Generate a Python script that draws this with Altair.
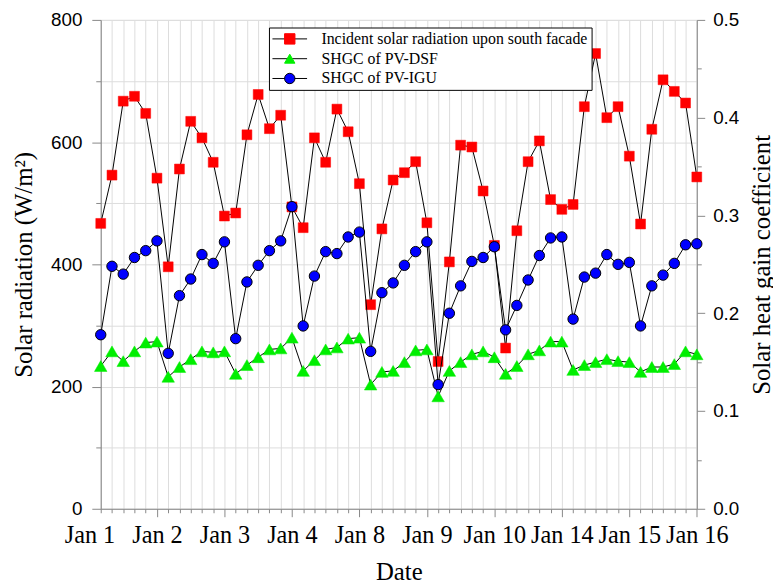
import altair as alt
import pandas as pd

# ---------------- data ----------------
idx = list(range(54))
radiation = [467, 546, 667, 675, 647, 541, 396, 556, 634, 607, 567, 479, 484, 612, 678, 622, 644, 494, 460,
             607, 567, 654, 617, 532, 334, 458, 538, 550, 568, 468, 241, 404, 595, 592, 520, 431, 263,
             455, 568, 602, 506, 490, 498, 658, 745, 640, 658, 577, 466, 621, 702, 683, 664, 543]
shgc_dsf = [0.146, 0.161, 0.151, 0.161, 0.170, 0.171, 0.135, 0.145, 0.153, 0.161, 0.160, 0.161, 0.138, 0.147,
            0.155, 0.163, 0.164, 0.175, 0.141,
            0.152, 0.163, 0.165, 0.174, 0.175, 0.127, 0.140, 0.141, 0.150, 0.162, 0.163, 0.115, 0.141,
            0.150, 0.158, 0.161, 0.155, 0.138,
            0.146, 0.158, 0.162, 0.171, 0.171, 0.142, 0.147, 0.150, 0.153, 0.151, 0.150, 0.140, 0.145,
            0.145, 0.148, 0.161, 0.158]
shgc_igu = [0.178, 0.248, 0.240, 0.257, 0.264, 0.274, 0.159, 0.218, 0.235, 0.260, 0.251, 0.273, 0.174, 0.232,
            0.249, 0.264, 0.274, 0.309, 0.187,
            0.238, 0.263, 0.261, 0.278, 0.283, 0.161, 0.221, 0.231, 0.249, 0.263, 0.273, 0.127, 0.200,
            0.228, 0.253, 0.257, 0.268, 0.183,
            0.208, 0.234, 0.259, 0.277, 0.278, 0.194, 0.237, 0.241, 0.260, 0.250, 0.252, 0.187, 0.228,
            0.239, 0.251, 0.270, 0.271]
major_ticks = [0, 5, 11, 17, 23, 29, 35, 41, 47, 53]
major_labels = ["Jan 1", "Jan 2", "Jan 3", "Jan 4", "Jan 8", "Jan 9", "Jan 10", "Jan 14", "Jan 15", "Jan 16"]

S_RAD = "Incident solar radiation upon south facade"
S_DSF = "SHGC of PV-DSF"
S_IGU = "SHGC of PV-IGU"

left = pd.DataFrame({"idx": idx, "value": radiation, "series": S_RAD})
right = pd.concat([
    pd.DataFrame({"idx": idx, "value": shgc_dsf, "series": S_DSF}),
    pd.DataFrame({"idx": idx, "value": shgc_igu, "series": S_IGU}),
], ignore_index=True)
left["line_key"] = left["series"]
right["line_key"] = right["series"]

# ---------------- layout ----------------
W, H = 602.3, 494
STEP = W / 53.0
SERIF = "Liberation Serif"
SANS = "Liberation Sans"

label_expr = " : ".join(f"datum.value == {t} ? '{l}'" for t, l in zip(major_ticks, major_labels)) + " : ''"
major_test = f"indexof({major_ticks[1:]}, datum.value) >= 0"

x_axis = alt.Axis(
    values=idx, labelExpr=label_expr, title="Date",
    tickSize={"condition": {"test": major_test, "value": 8}, "value": 4},
    labelOffset={"condition": {"test": "datum.value == 0", "value": -STEP}, "value": 0},
    labelPadding={"condition": {"test": "datum.value == 0", "value": 11}, "value": 7},
    labelOverlap=False, labelFlush=False, labelBound=False,
    labelFont=SERIF, labelFontSize=24.5, titleFont=SERIF, titleFontSize=25,
    titleFontWeight="normal", titlePadding=13,
)
x_enc = alt.X("idx:Q", scale=alt.Scale(domain=[0, 53], nice=False, zero=False), axis=x_axis)

left_axis = alt.Axis(
    values=list(range(0, 801, 100)),
    labelExpr="datum.value % 200 == 0 ? datum.label : ''",
    tickSize={"condition": {"test": "datum.value % 200 == 0", "value": 9}, "value": 5},
    labelFont=SANS, labelFontSize=19, labelPadding=10,
    title="Solar radiation (W/m²)", titleFont=SERIF, titleFontSize=25,
    titleFontWeight="normal", titlePadding=14,
)
right_axis = alt.Axis(
    orient="right",
    values=[round(i * 0.05, 2) for i in range(11)],
    labelExpr="round(datum.value * 100) % 10 == 0 ? format(datum.value, '.1f') : ''",
    tickSize={"condition": {"test": "round(datum.value * 100) % 10 == 0", "value": 8}, "value": 4.5},
    labelFont=SANS, labelFontSize=19, labelPadding=8,
    title="Solar heat gain coefficient", titleFont=SERIF, titleFontSize=25,
    titleFontWeight="normal", titleAngle=270, titleBaseline="top", titlePadding=11,
)
y_left = alt.Y("value:Q", scale=alt.Scale(domain=[0, 800], nice=False), axis=left_axis)
y_right = alt.Y("value:Q", scale=alt.Scale(domain=[0, 0.5], nice=False), axis=right_axis)

LEG_X, LEG_Y = 170, 7.7
line_legend = alt.Legend(
    title=None, orient="none", legendX=LEG_X, legendY=LEG_Y,
    symbolType="M-3,0H3", symbolSize=136, symbolStrokeWidth=1, symbolOffset=9.5,
    labelOffset=24, labelFont=SERIF, labelFontSize=16, labelColor="black", labelLimit=500,
    rowPadding=4, padding=3.5, strokeColor="black", fillColor="white", zindex=1,
)
point_legend = alt.Legend(
    title=None, orient="none", legendX=LEG_X, legendY=LEG_Y,
    symbolSize=110, symbolStrokeWidth=1, symbolOffset=9.5, symbolOpacity=1,
    labelOffset=24, labelFont=SERIF, labelFontSize=16, labelOpacity=0, labelLimit=500,
    rowPadding=4, padding=3.5, zindex=2,
)

color_enc = alt.Color("line_key:N", scale=alt.Scale(range=["#000000", "#000000", "#000000"]), legend=line_legend)
shape_enc = alt.Shape("series:N", scale=alt.Scale(range=["square", "triangle-up", "circle"]), legend=point_legend)
fill_enc = alt.Fill("series:N", scale=alt.Scale(range=["#ff0000", "#00ee00", "#0000ff"]), legend=point_legend)
stroke_enc = alt.Stroke("series:N", scale=alt.Scale(range=["#ff0000", "#00ee00", "#000000"]), legend=point_legend)

left_line = alt.Chart(left).mark_line(strokeWidth=1).encode(x=x_enc, y=y_left, color=color_enc)
left_pts = alt.Chart(left).mark_point(filled=True, opacity=1, size=100, strokeWidth=0.5).encode(
    x=x_enc, y=y_left, shape=shape_enc, fill=fill_enc, stroke=stroke_enc)
left_layer = alt.layer(left_line, left_pts)

right_line = alt.Chart(right).mark_line(strokeWidth=1).encode(x=x_enc, y=y_right, color=color_enc)
green_pts = alt.Chart(right).transform_filter(alt.datum.series == S_DSF).mark_point(
    filled=True, opacity=1, size=160, strokeWidth=0.5).encode(
    x=x_enc, y=y_right, shape=shape_enc, fill=fill_enc, stroke=stroke_enc)
blue_pts = alt.Chart(right).transform_filter(alt.datum.series == S_IGU).mark_point(
    filled=True, opacity=1, size=110, strokeWidth=1).encode(
    x=x_enc, y=y_right, shape=shape_enc, fill=fill_enc, stroke=stroke_enc)
right_layer = alt.layer(right_line, green_pts, blue_pts)

chart = alt.layer(left_layer, right_layer).resolve_scale(y="independent").properties(
    width=W, height=H,
    autosize=alt.AutoSizeParams(type="none"),
    padding={"left": 93.7, "top": 9, "right": 77, "bottom": 75},
).configure_view(stroke="black", strokeWidth=1.5).configure_axis(
    grid=False, domainColor="black", domainWidth=1.5, tickColor="black", tickWidth=1.5,
    labelColor="black", titleColor="black",
).configure(background="white")

chart.save("out.html", embed_options={"renderer": "svg", "actions": False})
